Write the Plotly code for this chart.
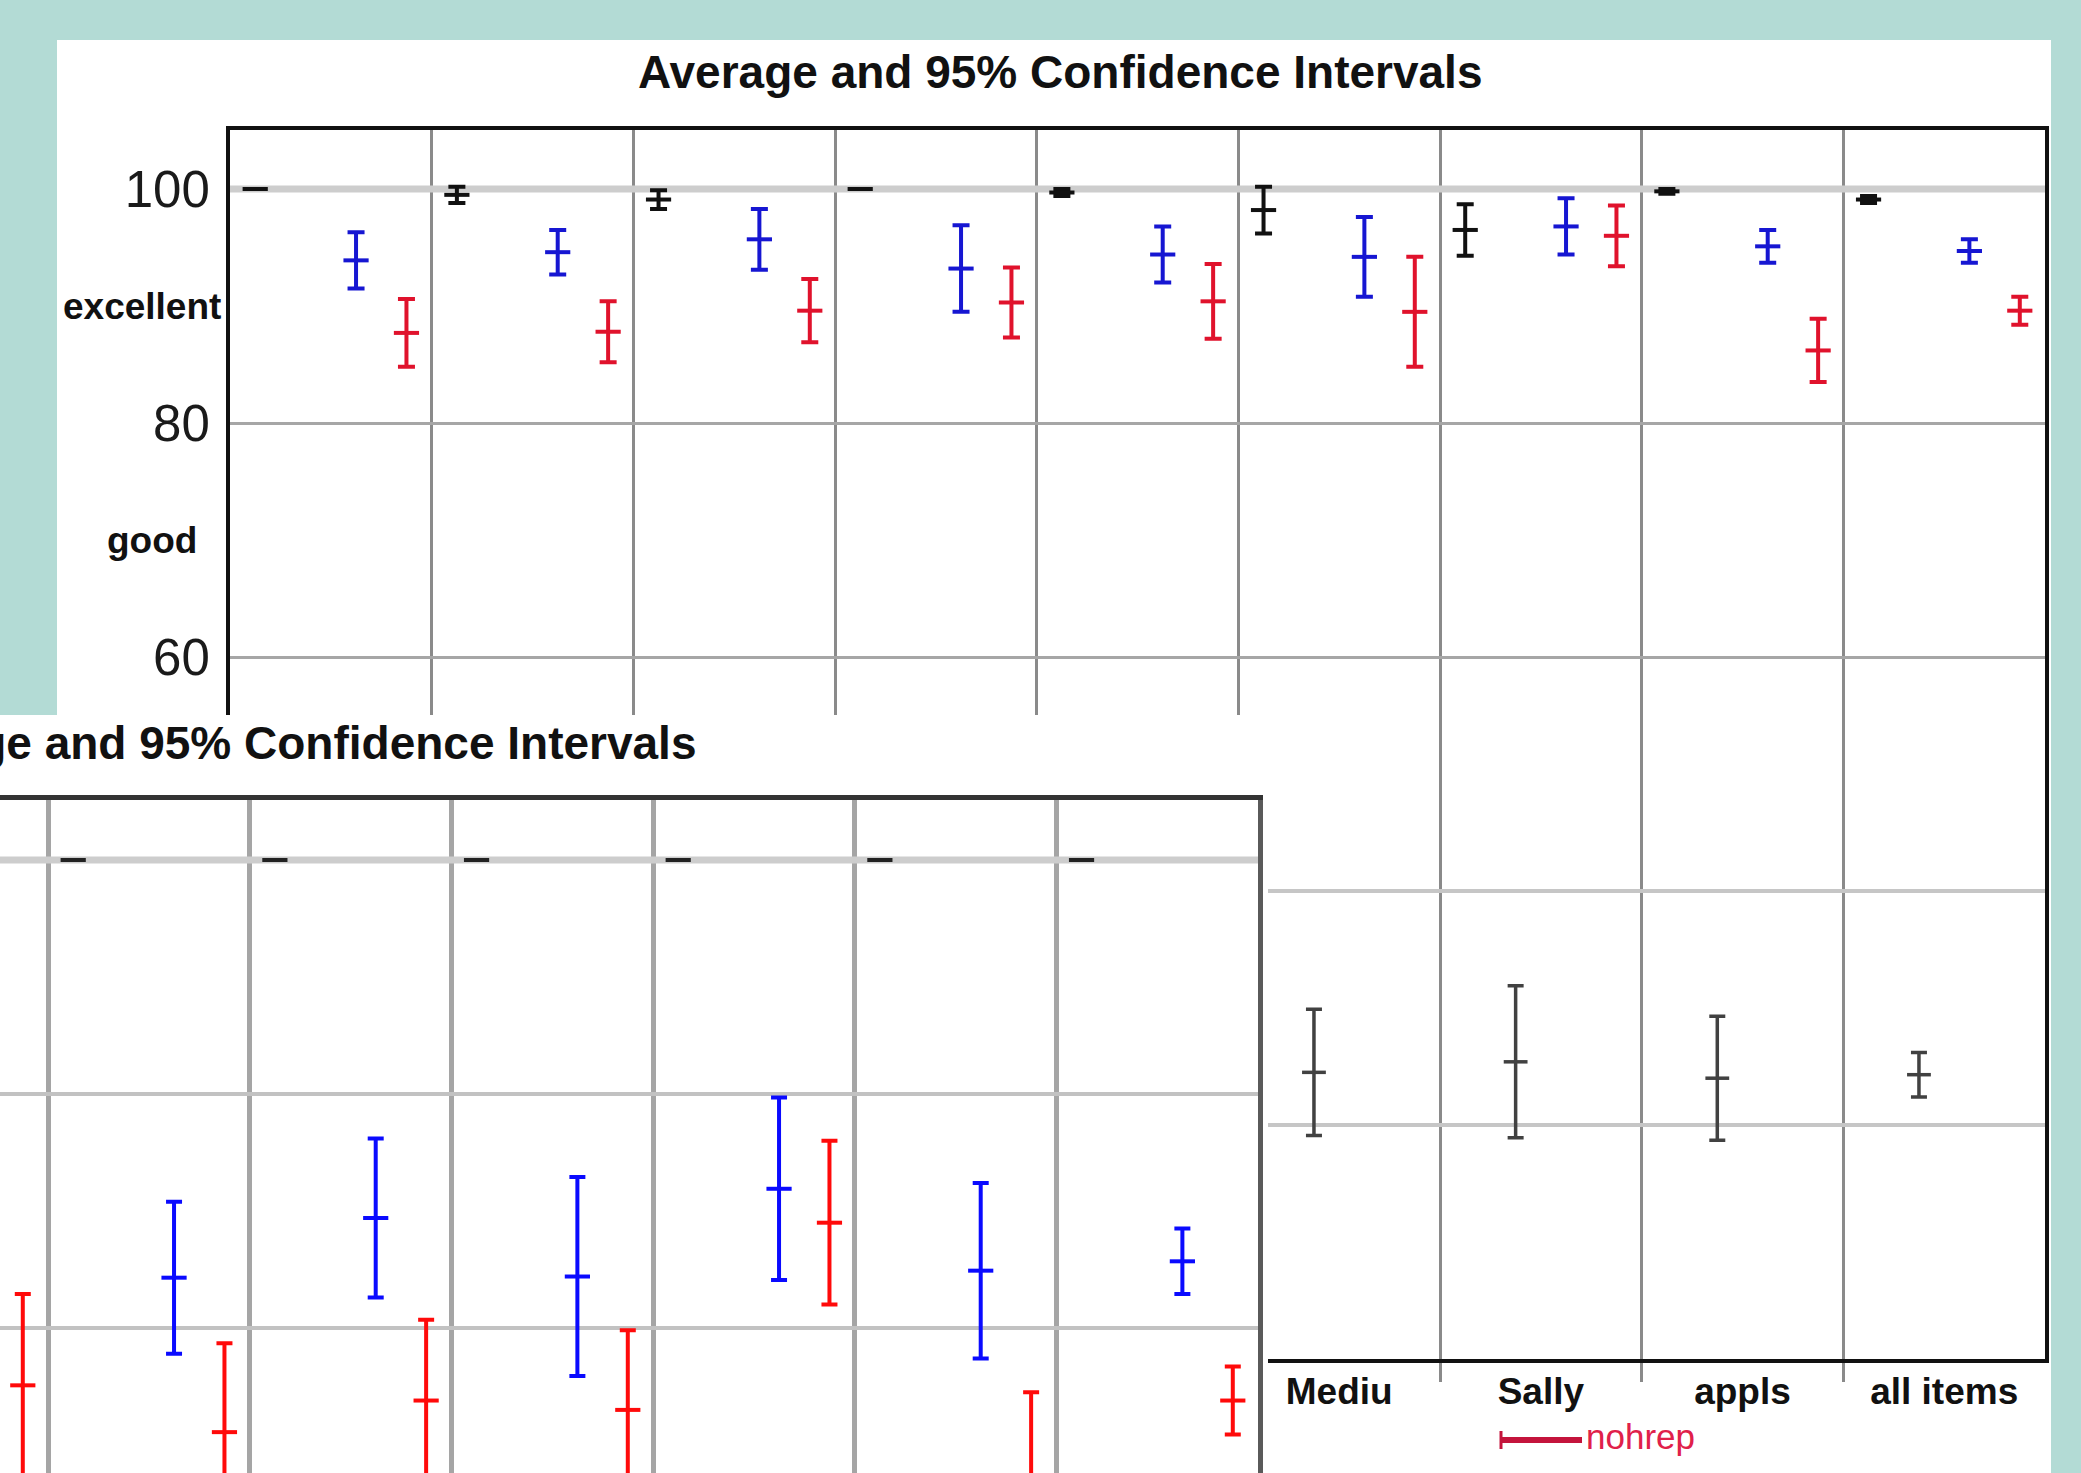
import plotly.graph_objects as go

# ---------------- data ----------------
# nine item columns; the names of the first five are hidden in the picture
categories = ["", "", "", "", "", "Mediu", "Sally", "appls", "all items"]

y_tick_values = [100, 80, 60]
y_tick_labels = ["100", "80", "60"]
grid_levels = [100, 80, 60, 40, 20]
rating_labels = ["excellent", "good"]
rating_values = [90, 70]
reference_level = 100
legend_label = "nohrep"
title_text = "Average and 95% Confidence Intervals"

# back chart (means and 95% CI half-widths)
back_black_mean = [100.0, 99.5, 99.1, 100.0, 99.7, 98.2, 96.5, 99.8, 99.1]
back_black_ci = [0.0, 0.7, 0.8, 0.0, 0.3, 2.0, 2.2, 0.2, 0.3]
back_gray_mean = [None, None, None, None, None, 24.5, 25.4, 24.0, 24.3]
back_gray_ci = [None, None, None, None, None, 5.4, 6.5, 5.3, 1.9]
back_blue_mean = [93.9, 94.6, 95.7, 93.2, 94.4, 94.2, 96.8, 95.1, 94.7]
back_blue_ci = [2.4, 1.9, 2.6, 3.7, 2.4, 3.4, 2.4, 1.4, 1.0]
back_red_mean = [87.7, 87.8, 89.6, 90.3, 90.4, 89.5, 96.0, 86.2, 89.6]
back_red_ci = [2.9, 2.6, 2.7, 3.0, 3.2, 4.7, 2.6, 2.7, 1.2]

# front chart (same layout, other data; only columns 3-9 visible)
front_black_mean = [None, None, None, 100.0, 100.0, 100.0, 100.0, 100.0, 100.0]
front_black_ci = [None, None, None, 0.0, 0.0, 0.0, 0.0, 0.0, 0.0]
front_blue_mean = [None, None, None, 64.3, 69.4, 64.4, 71.9, 64.9, 65.7]
front_blue_ci = [None, None, None, 6.5, 6.8, 8.5, 7.8, 7.5, 2.8]
front_red_mean = [None, None, 55.1, 51.1, 53.8, 53.0, 69.0, 47.0, 53.8]
front_red_ci = [None, None, 7.8, 7.6, 6.9, 6.8, 7.0, 7.5, 2.9]

# ---------------- layout helpers ----------------
W, H = 2081, 1473


def fx(p):
    return p / W


def fy(p):
    return 1 - p / H


n_cat = len(categories)
OFF_BLACK, OFF_GRAY, OFF_BLUE, OFF_RED = 0.125, 0.375, 0.625, 0.875


def xs(off):
    return [i + off for i in range(n_cat)]


def ci_trace(xa, ya, x, mean, ci, color, thick, cap, msize):
    return go.Scatter(
        x=x, y=mean, xaxis=xa, yaxis=ya, mode="markers",
        marker=dict(symbol="line-ew", size=msize, color=color,
                    line=dict(color=color, width=thick)),
        error_y=dict(type="data", array=ci, visible=True, color=color,
                     thickness=thick, width=cap),
        showlegend=False, hoverinfo="skip", cliponaxis=True,
    )


def ref_line(xa, ya, color, width):
    return go.Scatter(x=[0, n_cat], y=[reference_level, reference_level],
                      xaxis=xa, yaxis=ya, mode="lines",
                      line=dict(color=color, width=width),
                      showlegend=False, hoverinfo="skip")


fig = go.Figure()

BK_BLACK, BK_GRAY, BK_BLUE, BK_RED = "#111111", "#414141", "#1616d2", "#e0122c"
FR_BLACK, FR_BLUE, FR_RED = "#222222", "#0a0aff", "#ff0a0a"

# back chart, upper band
fig.add_trace(ref_line("x", "y", "#cdcdcd", 7))
for m, c, off, col in [(back_black_mean, back_black_ci, OFF_BLACK, BK_BLACK),
                       (back_gray_mean, back_gray_ci, OFF_GRAY, BK_GRAY),
                       (back_blue_mean, back_blue_ci, OFF_BLUE, BK_BLUE),
                       (back_red_mean, back_red_ci, OFF_RED, BK_RED)]:
    fig.add_trace(ci_trace("x", "y", xs(off), m, c, col, 4, 8.5, 18))

# back chart, lower right part
for m, c, off, col in [(back_black_mean, back_black_ci, OFF_BLACK, BK_BLACK),
                       (back_gray_mean, back_gray_ci, OFF_GRAY, BK_GRAY),
                       (back_blue_mean, back_blue_ci, OFF_BLUE, BK_BLUE),
                       (back_red_mean, back_red_ci, OFF_RED, BK_RED)]:
    fig.add_trace(ci_trace("x2", "y2", xs(off), m, c, col, 3.5, 8, 17))

# front chart
fig.add_trace(ref_line("x3", "y3", "#cdcdcd", 7))
for m, c, off, col in [(front_black_mean, front_black_ci, OFF_BLACK, FR_BLACK),
                       (front_blue_mean, front_blue_ci, OFF_BLUE, FR_BLUE),
                       (front_red_mean, front_red_ci, OFF_RED, FR_RED)]:
    fig.add_trace(ci_trace("x3", "y3", xs(off), m, c, col, 4, 8, 18))

FONT = "Liberation Sans, Arial, sans-serif"
sep_ticks = list(range(1, n_cat))
center_ticks = [i + 0.5 for i in range(n_cat)]

# pixel geometry of the two screenshots
BK_L, BK_R, BK_T, BK_B = 230, 2045, 130, 1359      # back plot area
CUT_X, CUT_Y = 1268, 715                           # front window edges
FR_R, FR_T = 1258, 800                             # front plot area
PX_PER_X = (BK_R - BK_L) / n_cat
PX_PER_Y = (BK_B - 189) / 100.0
y_cut = (BK_B - CUT_Y) / PX_PER_Y
y_top = (BK_B - BK_T) / PX_PER_Y
fr_y100 = 860
fr_ytop = reference_level + (fr_y100 - FR_T) / PX_PER_Y
fr_ybot = reference_level - (H - fr_y100) / PX_PER_Y
fr_x3 = 48
fr_xmin = 3 - fr_x3 / PX_PER_X

fig.update_layout(
    width=W, height=H, autosize=False,
    margin=dict(l=0, r=0, t=0, b=0, pad=0),
    paper_bgcolor="#b3dbd5", plot_bgcolor="rgba(0,0,0,0)",
    font=dict(family=FONT, color="#111111"),
    showlegend=False,
    xaxis=dict(domain=[fx(BK_L), fx(BK_R)], range=[0, n_cat], anchor="y",
               side="top", showline=True, linecolor="#111111", linewidth=4,
               tickvals=[], showticklabels=False, ticks="", showgrid=False,
               zeroline=False,
               minor=dict(tickvals=sep_ticks, showgrid=True, gridcolor="#8a8a8a",
                          gridwidth=3, ticks="")),
    yaxis=dict(domain=[fy(CUT_Y), fy(BK_T)], range=[y_cut, y_top], anchor="x",
               showline=True, mirror=True, linecolor="#111111", linewidth=4,
               tickvals=y_tick_values, ticktext=y_tick_labels,
               tickfont=dict(size=51, color="#1a1a1a", family=FONT),
               ticks="", ticklabelstandoff=6,
               showgrid=True, gridcolor="#a6a6a6", gridwidth=3, zeroline=False),
    xaxis2=dict(domain=[fx(CUT_X), fx(BK_R)], range=[(CUT_X - BK_L) / PX_PER_X, n_cat],
                anchor="y2", showline=True, linecolor="#111111", linewidth=4,
                tickvals=center_ticks, ticktext=categories,
                tickfont=dict(size=37, color="#111111", family=FONT, weight="bold"),
                ticks="", ticklabelstandoff=-3, showgrid=False, zeroline=False,
                minor=dict(tickvals=sep_ticks, showgrid=True, gridcolor="#8a8a8a",
                           gridwidth=3, ticks="outside", ticklen=19,
                           tickcolor="#8a8a8a", tickwidth=3)),
    yaxis2=dict(domain=[fy(BK_B), fy(CUT_Y)], range=[0, y_cut], anchor="x2",
                side="right", showline=True, linecolor="#111111", linewidth=4,
                tickvals=grid_levels, showticklabels=False, ticks="",
                showgrid=True, gridcolor="#c6c6c6", gridwidth=4, zeroline=False),
    xaxis3=dict(domain=[0, fx(FR_R)], range=[fr_xmin, n_cat], anchor="y3",
                side="top", showline=True, linecolor="#333333", linewidth=5,
                tickvals=[], showticklabels=False, ticks="", showgrid=False,
                zeroline=False,
                minor=dict(tickvals=sep_ticks, showgrid=True, gridcolor="#a5a5a5",
                           gridwidth=5, ticks="")),
    yaxis3=dict(domain=[0, fy(FR_T)], range=[fr_ybot, fr_ytop], anchor="x3",
                side="right", showline=True, linecolor="#5a5a5a", linewidth=5,
                tickvals=grid_levels, showticklabels=False, ticks="",
                showgrid=True, gridcolor="#c2c2c2", gridwidth=4, zeroline=False),
)

shapes = [
    dict(type="rect", xref="paper", yref="paper", x0=fx(57), x1=fx(2051),
         y0=0, y1=fy(40), fillcolor="white", line=dict(width=0), layer="below"),
    dict(type="rect", xref="paper", yref="paper", x0=0, x1=fx(CUT_X),
         y0=0, y1=fy(CUT_Y), fillcolor="white", line=dict(width=0), layer="below"),
    # legend sample for the red series
    dict(type="line", xref="paper", yref="paper", x0=fx(1500), x1=fx(1582),
         y0=fy(1440), y1=fy(1440), line=dict(color="#c4143c", width=6), layer="above"),
    dict(type="line", xref="paper", yref="paper", x0=fx(1501), x1=fx(1501),
         y0=fy(1431), y1=fy(1449), line=dict(color="#c4143c", width=3), layer="above"),
]
fig.update_layout(shapes=shapes)

annotations = [
    dict(text=title_text, xref="paper", yref="paper", x=fx(1060), y=fy(72),
         xanchor="center", yanchor="middle", showarrow=False,
         font=dict(size=46, family=FONT, color="#111111", weight="bold")),
    dict(text=title_text, xref="paper", yref="paper", x=fx(274), y=fy(743),
         xanchor="center", yanchor="middle", showarrow=False,
         font=dict(size=46, family=FONT, color="#111111", weight="bold")),
    dict(text=legend_label, xref="paper", yref="paper", x=fx(1584), y=fy(1436),
         xanchor="left", yanchor="middle", showarrow=False,
         font=dict(size=35, family=FONT, color="#e0204a")),
]
for lab, val, cx in zip(rating_labels, rating_values, [142, 152]):
    annotations.append(dict(text=lab, xref="paper", yref="y", x=fx(cx), y=val,
                            xanchor="center", yanchor="middle", showarrow=False,
                            font=dict(size=37, family=FONT, color="#111111",
                                      weight="bold")))
fig.update_layout(annotations=annotations)

fig.write_html("out.html", config={"displayModeBar": False},
               post_script="document.body.style.margin='0px';")
